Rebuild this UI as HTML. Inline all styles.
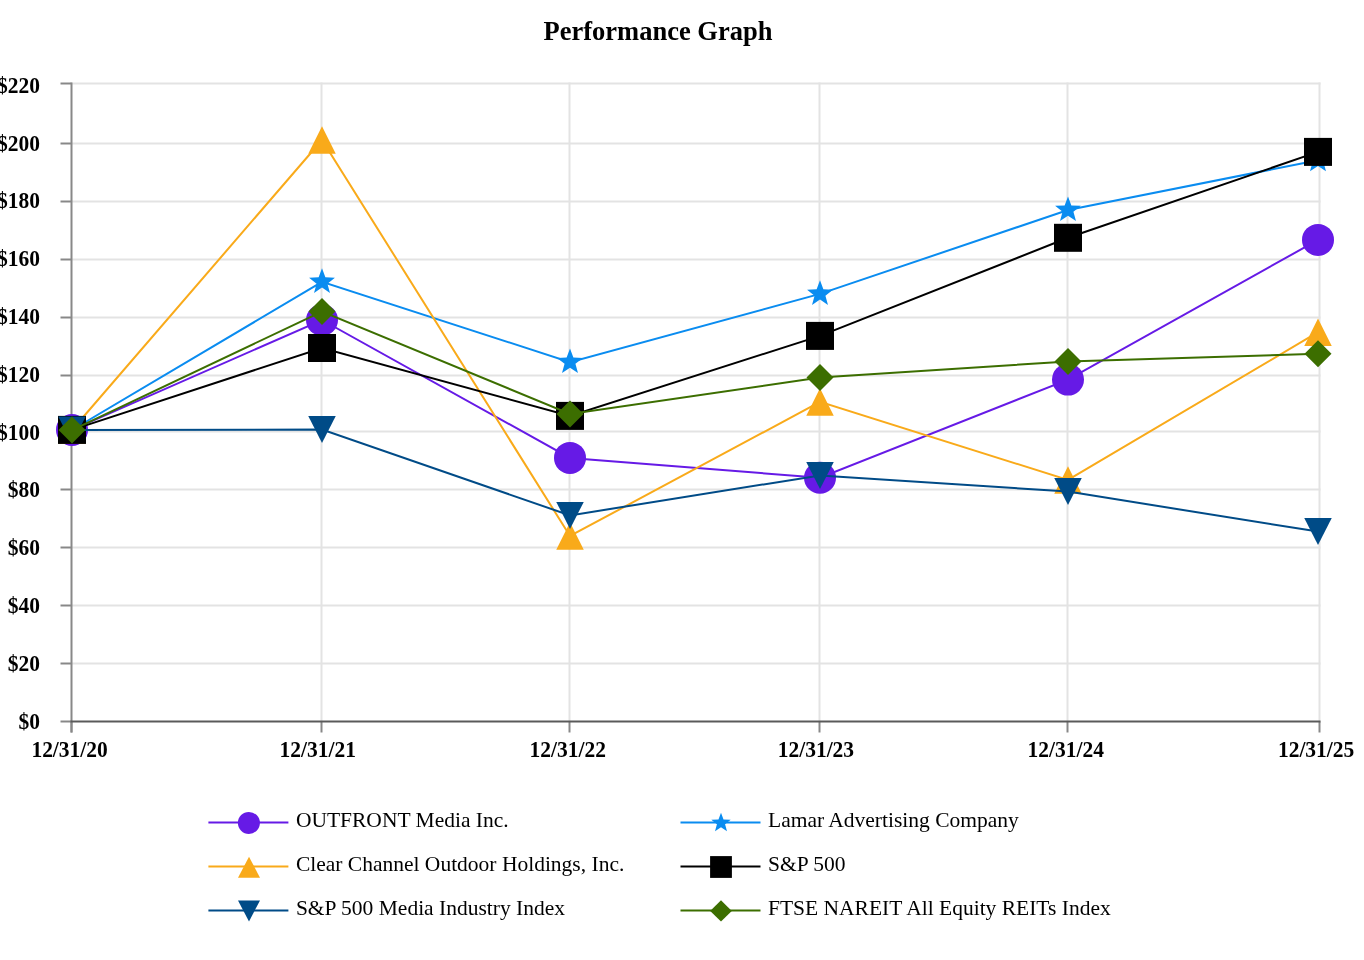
<!DOCTYPE html>
<html><head><meta charset="utf-8"><style>
html,body{margin:0;padding:0;background:#fff;width:1364px;height:960px;overflow:hidden;position:relative}
text{font-family:"Liberation Serif",serif}
svg{will-change:transform}
.b{font-weight:bold;font-size:21.5px;fill:#000}
.r{font-size:21.5px;fill:#000}
.t{font-weight:bold;font-size:26.5px;fill:#000}
</style></head><body>
<svg width="1364" height="960" viewBox="0 0 1364 960" style="position:absolute;left:0;top:0">
<line x1="71.5" y1="83.5" x2="1320.5" y2="83.5" stroke="#e3e3e3" stroke-width="2"/>
<line x1="71.5" y1="143.5" x2="1320.5" y2="143.5" stroke="#e3e3e3" stroke-width="2"/>
<line x1="71.5" y1="201.5" x2="1320.5" y2="201.5" stroke="#e3e3e3" stroke-width="2"/>
<line x1="71.5" y1="259.5" x2="1320.5" y2="259.5" stroke="#e3e3e3" stroke-width="2"/>
<line x1="71.5" y1="317.5" x2="1320.5" y2="317.5" stroke="#e3e3e3" stroke-width="2"/>
<line x1="71.5" y1="375.5" x2="1320.5" y2="375.5" stroke="#e3e3e3" stroke-width="2"/>
<line x1="71.5" y1="431.5" x2="1320.5" y2="431.5" stroke="#e3e3e3" stroke-width="2"/>
<line x1="71.5" y1="489.5" x2="1320.5" y2="489.5" stroke="#e3e3e3" stroke-width="2"/>
<line x1="71.5" y1="547.5" x2="1320.5" y2="547.5" stroke="#e3e3e3" stroke-width="2"/>
<line x1="71.5" y1="605.5" x2="1320.5" y2="605.5" stroke="#e3e3e3" stroke-width="2"/>
<line x1="71.5" y1="663.5" x2="1320.5" y2="663.5" stroke="#e3e3e3" stroke-width="2"/>
<line x1="321.5" y1="82.5" x2="321.5" y2="721.5" stroke="#e3e3e3" stroke-width="2"/>
<line x1="569.5" y1="82.5" x2="569.5" y2="721.5" stroke="#e3e3e3" stroke-width="2"/>
<line x1="819.5" y1="82.5" x2="819.5" y2="721.5" stroke="#e3e3e3" stroke-width="2"/>
<line x1="1067.5" y1="82.5" x2="1067.5" y2="721.5" stroke="#e3e3e3" stroke-width="2"/>
<line x1="1319.5" y1="82.5" x2="1319.5" y2="721.5" stroke="#e3e3e3" stroke-width="2"/>
<line x1="60.5" y1="83.5" x2="71.5" y2="83.5" stroke="#888" stroke-width="2"/>
<line x1="60.5" y1="143.5" x2="71.5" y2="143.5" stroke="#888" stroke-width="2"/>
<line x1="60.5" y1="201.5" x2="71.5" y2="201.5" stroke="#888" stroke-width="2"/>
<line x1="60.5" y1="259.5" x2="71.5" y2="259.5" stroke="#888" stroke-width="2"/>
<line x1="60.5" y1="317.5" x2="71.5" y2="317.5" stroke="#888" stroke-width="2"/>
<line x1="60.5" y1="375.5" x2="71.5" y2="375.5" stroke="#888" stroke-width="2"/>
<line x1="60.5" y1="431.5" x2="71.5" y2="431.5" stroke="#888" stroke-width="2"/>
<line x1="60.5" y1="489.5" x2="71.5" y2="489.5" stroke="#888" stroke-width="2"/>
<line x1="60.5" y1="547.5" x2="71.5" y2="547.5" stroke="#888" stroke-width="2"/>
<line x1="60.5" y1="605.5" x2="71.5" y2="605.5" stroke="#888" stroke-width="2"/>
<line x1="60.5" y1="663.5" x2="71.5" y2="663.5" stroke="#888" stroke-width="2"/>
<line x1="60.5" y1="721.5" x2="71.5" y2="721.5" stroke="#888" stroke-width="2"/>
<line x1="71.5" y1="721.5" x2="71.5" y2="732.5" stroke="#888" stroke-width="2"/>
<line x1="321.5" y1="721.5" x2="321.5" y2="732.5" stroke="#888" stroke-width="2"/>
<line x1="569.5" y1="721.5" x2="569.5" y2="732.5" stroke="#888" stroke-width="2"/>
<line x1="819.5" y1="721.5" x2="819.5" y2="732.5" stroke="#888" stroke-width="2"/>
<line x1="1067.5" y1="721.5" x2="1067.5" y2="732.5" stroke="#888" stroke-width="2"/>
<line x1="1319.5" y1="721.5" x2="1319.5" y2="732.5" stroke="#888" stroke-width="2"/>
<line x1="71.5" y1="82.5" x2="71.5" y2="732.5" stroke="#888" stroke-width="2"/>
<line x1="70.5" y1="721.5" x2="1320.5" y2="721.5" stroke="#5a5a5a" stroke-width="2"/>
<text x="40" y="0" text-anchor="end" class="b" transform="translate(0,92.68) scale(1,1.03)">$220</text>
<text x="40" y="0" text-anchor="end" class="b" transform="translate(0,150.50) scale(1,1.03)">$200</text>
<text x="40" y="0" text-anchor="end" class="b" transform="translate(0,208.32) scale(1,1.03)">$180</text>
<text x="40" y="0" text-anchor="end" class="b" transform="translate(0,266.14) scale(1,1.03)">$160</text>
<text x="40" y="0" text-anchor="end" class="b" transform="translate(0,323.96) scale(1,1.03)">$140</text>
<text x="40" y="0" text-anchor="end" class="b" transform="translate(0,381.78) scale(1,1.03)">$120</text>
<text x="40" y="0" text-anchor="end" class="b" transform="translate(0,439.60) scale(1,1.03)">$100</text>
<text x="40" y="0" text-anchor="end" class="b" transform="translate(0,497.42) scale(1,1.03)">$80</text>
<text x="40" y="0" text-anchor="end" class="b" transform="translate(0,555.24) scale(1,1.03)">$60</text>
<text x="40" y="0" text-anchor="end" class="b" transform="translate(0,613.06) scale(1,1.03)">$40</text>
<text x="40" y="0" text-anchor="end" class="b" transform="translate(0,670.88) scale(1,1.03)">$20</text>
<text x="40" y="0" text-anchor="end" class="b" transform="translate(0,728.70) scale(1,1.03)">$0</text>
<text x="31.40" y="0" class="b" transform="translate(0,756.6) scale(1,1.03)">12/31/20</text>
<text x="279.50" y="0" class="b" transform="translate(0,756.6) scale(1,1.03)">12/31/21</text>
<text x="529.50" y="0" class="b" transform="translate(0,756.6) scale(1,1.03)">12/31/22</text>
<text x="777.70" y="0" class="b" transform="translate(0,756.6) scale(1,1.03)">12/31/23</text>
<text x="1027.60" y="0" class="b" transform="translate(0,756.6) scale(1,1.03)">12/31/24</text>
<text x="1277.90" y="0" class="b" transform="translate(0,756.6) scale(1,1.03)">12/31/25</text>
<polyline points="72,429.9 322,320 570,457.9 820,477.75 1068,379.6 1318,239.9" fill="none" stroke="#661ae6" stroke-width="2" stroke-linejoin="miter"/>
<circle cx="72.00" cy="429.90" r="16.00" fill="#661ae6"/>
<circle cx="322.00" cy="320.00" r="16.00" fill="#661ae6"/>
<circle cx="570.00" cy="457.90" r="16.00" fill="#661ae6"/>
<circle cx="820.00" cy="477.75" r="16.00" fill="#661ae6"/>
<circle cx="1068.00" cy="379.60" r="16.00" fill="#661ae6"/>
<circle cx="1318.00" cy="239.90" r="16.00" fill="#661ae6"/>
<polyline points="72,430 322,281.9 570,362.1 820,293.9 1068,210.0 1318,160.2" fill="none" stroke="#0a8cf0" stroke-width="2" stroke-linejoin="miter"/>
<polygon points="72.00,416.40 75.36,425.38 84.93,425.80 77.43,431.77 79.99,441.00 72.00,435.71 64.01,441.00 66.57,431.77 59.07,425.80 68.64,425.38" fill="#0a8cf0"/>
<polygon points="322.00,268.30 325.36,277.28 334.93,277.70 327.43,283.67 329.99,292.90 322.00,287.61 314.01,292.90 316.57,283.67 309.07,277.70 318.64,277.28" fill="#0a8cf0"/>
<polygon points="570.00,348.50 573.36,357.48 582.93,357.90 575.43,363.87 577.99,373.10 570.00,367.81 562.01,373.10 564.57,363.87 557.07,357.90 566.64,357.48" fill="#0a8cf0"/>
<polygon points="820.00,280.30 823.36,289.28 832.93,289.70 825.43,295.67 827.99,304.90 820.00,299.61 812.01,304.90 814.57,295.67 807.07,289.70 816.64,289.28" fill="#0a8cf0"/>
<polygon points="1068.00,196.40 1071.36,205.38 1080.93,205.80 1073.43,211.77 1075.99,221.00 1068.00,215.71 1060.01,221.00 1062.57,211.77 1055.07,205.80 1064.64,205.38" fill="#0a8cf0"/>
<polygon points="1318.00,146.60 1321.36,155.58 1330.93,156.00 1323.43,161.97 1325.99,171.20 1318.00,165.91 1310.01,171.20 1312.57,161.97 1305.07,156.00 1314.64,155.58" fill="#0a8cf0"/>
<polyline points="72,430 322,140 570,536 820,401.9 1068,479.9 1318,332.2" fill="none" stroke="#f9aa1a" stroke-width="2" stroke-linejoin="miter"/>
<polygon points="72.00,416.25 85.75,443.75 58.25,443.75" fill="#f9aa1a"/>
<polygon points="322.00,126.25 335.75,153.75 308.25,153.75" fill="#f9aa1a"/>
<polygon points="570.00,522.25 583.75,549.75 556.25,549.75" fill="#f9aa1a"/>
<polygon points="820.00,388.15 833.75,415.65 806.25,415.65" fill="#f9aa1a"/>
<polygon points="1068.00,466.15 1081.75,493.65 1054.25,493.65" fill="#f9aa1a"/>
<polygon points="1318.00,318.45 1331.75,345.95 1304.25,345.95" fill="#f9aa1a"/>
<polyline points="72,429.9 322,348 570,415.9 820,335.9 1068,237.8 1318,151.9" fill="none" stroke="#000000" stroke-width="2" stroke-linejoin="miter"/>
<rect x="58.00" y="415.90" width="28.00" height="28.00" fill="#000000"/>
<rect x="308.00" y="334.00" width="28.00" height="28.00" fill="#000000"/>
<rect x="556.00" y="401.90" width="28.00" height="28.00" fill="#000000"/>
<rect x="806.00" y="321.90" width="28.00" height="28.00" fill="#000000"/>
<rect x="1054.00" y="223.80" width="28.00" height="28.00" fill="#000000"/>
<rect x="1304.00" y="137.90" width="28.00" height="28.00" fill="#000000"/>
<polyline points="72,430 322,429.6 570,515.4 820,475.4 1068,491.6 1318,531.6" fill="none" stroke="#004b87" stroke-width="2" stroke-linejoin="miter"/>
<polygon points="58.25,416.50 85.75,416.50 72.00,443.50" fill="#004b87"/>
<polygon points="308.25,416.10 335.75,416.10 322.00,443.10" fill="#004b87"/>
<polygon points="556.25,501.90 583.75,501.90 570.00,528.90" fill="#004b87"/>
<polygon points="806.25,461.90 833.75,461.90 820.00,488.90" fill="#004b87"/>
<polygon points="1054.25,478.10 1081.75,478.10 1068.00,505.10" fill="#004b87"/>
<polygon points="1304.25,518.10 1331.75,518.10 1318.00,545.10" fill="#004b87"/>
<polyline points="72,430.1 322,311.5 570,413.9 820,377.6 1068,361.4 1318,353.75" fill="none" stroke="#3c6e00" stroke-width="2" stroke-linejoin="miter"/>
<polygon points="72.00,416.60 85.50,430.10 72.00,443.60 58.50,430.10" fill="#3c6e00"/>
<polygon points="322.00,298.00 335.50,311.50 322.00,325.00 308.50,311.50" fill="#3c6e00"/>
<polygon points="570.00,400.40 583.50,413.90 570.00,427.40 556.50,413.90" fill="#3c6e00"/>
<polygon points="820.00,364.10 833.50,377.60 820.00,391.10 806.50,377.60" fill="#3c6e00"/>
<polygon points="1068.00,347.90 1081.50,361.40 1068.00,374.90 1054.50,361.40" fill="#3c6e00"/>
<polygon points="1318.00,340.25 1331.50,353.75 1318.00,367.25 1304.50,353.75" fill="#3c6e00"/>
<line x1="208.4" y1="822.4" x2="288.4" y2="822.4" stroke="#661ae6" stroke-width="2"/>
<circle cx="248.90" cy="822.90" r="11.00" fill="#661ae6"/>
<text x="295.9" y="826.60" class="r">OUTFRONT Media Inc.</text>
<line x1="680.5" y1="822.4" x2="760.5" y2="822.4" stroke="#0a8cf0" stroke-width="2"/>
<polygon points="721.00,812.80 723.52,819.53 730.70,819.85 725.07,824.32 727.00,831.25 721.00,827.28 715.00,831.25 716.93,824.32 711.30,819.85 718.48,819.53" fill="#0a8cf0"/>
<text x="768.0" y="826.60" class="r">Lamar Advertising Company</text>
<line x1="208.4" y1="866.6" x2="288.4" y2="866.6" stroke="#f9aa1a" stroke-width="2"/>
<polygon points="249.00,856.70 260.00,877.70 238.00,877.70" fill="#f9aa1a"/>
<text x="295.9" y="870.80" class="r">Clear Channel Outdoor Holdings, Inc.</text>
<line x1="680.5" y1="866.6" x2="760.5" y2="866.6" stroke="#000000" stroke-width="2"/>
<rect x="710.10" y="856.10" width="21.80" height="21.80" fill="#000000"/>
<text x="768.0" y="870.80" class="r">S&amp;P 500</text>
<line x1="208.4" y1="910.6" x2="288.4" y2="910.6" stroke="#004b87" stroke-width="2"/>
<polygon points="238.00,900.40 260.00,900.40 249.00,921.40" fill="#004b87"/>
<text x="295.9" y="914.80" class="r">S&amp;P 500 Media Industry Index</text>
<line x1="680.5" y1="910.6" x2="760.5" y2="910.6" stroke="#3c6e00" stroke-width="2"/>
<polygon points="721.00,900.35 731.80,910.90 721.00,921.45 710.20,910.90" fill="#3c6e00"/>
<text x="768.0" y="914.80" class="r">FTSE NAREIT All Equity REITs Index</text>
<text x="658" y="40" text-anchor="middle" class="t">Performance Graph</text>
</svg>
</body></html>
